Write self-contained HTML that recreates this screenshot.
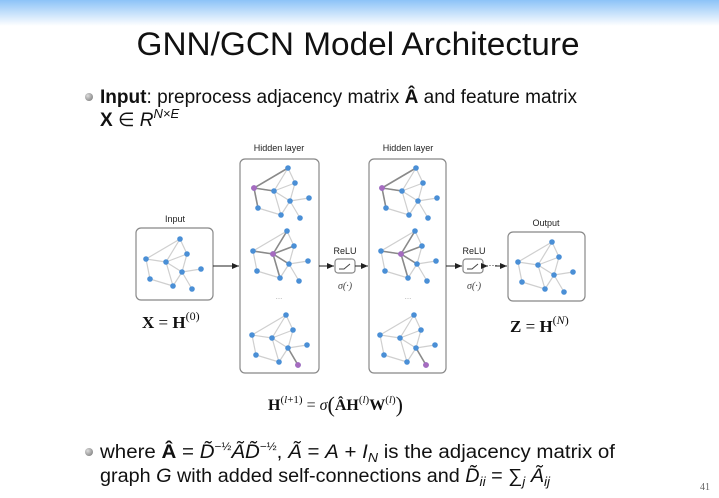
<!DOCTYPE html>
<html><head><meta charset="utf-8"><style>
html,body{margin:0;padding:0;background:#fff;}
svg{display:block;}
</style></head><body>
<svg width="719" height="498" viewBox="0 0 719 498" xmlns="http://www.w3.org/2000/svg" font-family="Liberation Sans, sans-serif">
<defs>
<linearGradient id="hd" x1="0" y1="0" x2="0" y2="1">
<stop offset="0" stop-color="#8cc3f7"/><stop offset="1" stop-color="#ffffff"/>
</linearGradient>
<radialGradient id="bl" cx="0.35" cy="0.35" r="0.7"><stop offset="0" stop-color="#ddd"/><stop offset="1" stop-color="#888"/></radialGradient>
<marker id="ar" markerWidth="8" markerHeight="8" refX="7" refY="4" orient="auto" markerUnits="userSpaceOnUse"><path d="M0,1 L7,4 L0,7 z" fill="#222"/></marker>
<g id="edges">
<g stroke="#cfcfcf" stroke-width="1.2">
<line x1="44" y1="11" x2="10" y2="31"/><line x1="44" y1="11" x2="51" y2="26"/><line x1="44" y1="11" x2="30" y2="34"/>
<line x1="30" y1="34" x2="10" y2="31"/><line x1="30" y1="34" x2="51" y2="26"/><line x1="30" y1="34" x2="46" y2="44"/><line x1="30" y1="34" x2="37" y2="58"/>
<line x1="51" y1="26" x2="46" y2="44"/><line x1="46" y1="44" x2="65" y2="41"/><line x1="46" y1="44" x2="56" y2="61"/>
<line x1="10" y1="31" x2="14" y2="51"/><line x1="14" y1="51" x2="37" y2="58"/><line x1="37" y1="58" x2="46" y2="44"/>
</g></g>
<g id="nodes" fill="#4a8fd6">
<circle cx="44" cy="11" r="2.8"/><circle cx="10" cy="31" r="2.8"/><circle cx="30" cy="34" r="2.8"/><circle cx="51" cy="26" r="2.8"/><circle cx="46" cy="44" r="2.8"/><circle cx="14" cy="51" r="2.8"/><circle cx="37" cy="58" r="2.8"/><circle cx="65" cy="41" r="2.8"/><circle cx="56" cy="61" r="2.8"/>
</g>
<g id="g1"><use href="#edges"/>
<g stroke="#8a8a8a" stroke-width="1.6"><line x1="10" y1="31" x2="44" y2="11"/><line x1="10" y1="31" x2="30" y2="34"/><line x1="10" y1="31" x2="14" y2="51"/></g>
<use href="#nodes"/><circle cx="10" cy="31" r="2.9" fill="#a66bbf"/></g>
<g id="g2"><use href="#edges"/>
<g stroke="#8a8a8a" stroke-width="1.6"><line x1="30" y1="34" x2="10" y2="31"/><line x1="30" y1="34" x2="44" y2="11"/><line x1="30" y1="34" x2="51" y2="26"/><line x1="30" y1="34" x2="46" y2="44"/><line x1="30" y1="34" x2="37" y2="58"/></g>
<use href="#nodes"/><circle cx="30" cy="34" r="2.9" fill="#a66bbf"/></g>
<g id="g3"><use href="#edges"/>
<g stroke="#8a8a8a" stroke-width="1.6"><line x1="56" y1="61" x2="46" y2="44"/></g>
<use href="#nodes"/><circle cx="56" cy="61" r="2.9" fill="#a66bbf"/></g>
</defs>
<rect x="0" y="0" width="719" height="26" fill="url(#hd)"/>
<text x="358" y="55" font-size="32" text-anchor="middle" textLength="443" lengthAdjust="spacingAndGlyphs" fill="#111">GNN/GCN Model Architecture</text>
<circle cx="89" cy="97" r="4" fill="url(#bl)"/>
<text x="100" y="103" font-size="19" fill="#111" textLength="477" lengthAdjust="spacingAndGlyphs"><tspan font-weight="bold">Input</tspan>: preprocess adjacency matrix <tspan font-weight="bold">Â</tspan> and feature matrix</text>
<text x="100" y="126" font-size="19" fill="#111"><tspan font-weight="bold">X</tspan> ∈ <tspan font-style="italic">R</tspan><tspan font-size="13" dy="-8" font-style="italic">N×E</tspan></text>

<g fill="#222" font-size="9" text-anchor="middle">
<text x="175" y="222">Input</text>
<text x="279" y="151">Hidden layer</text>
<text x="408" y="151">Hidden layer</text>
<text x="546" y="226">Output</text>
<text x="345" y="254">ReLU</text>
<text x="474" y="254">ReLU</text>
</g>
<g fill="#444" font-size="10" text-anchor="middle" font-family="Liberation Serif, serif" font-style="italic">
<text x="345" y="289">σ(·)</text><text x="474" y="289">σ(·)</text>
</g>
<g fill="none" stroke="#888" stroke-width="1.2">
<rect x="136" y="228" width="77" height="72" rx="5"/>
<rect x="240" y="159" width="79" height="214" rx="5"/>
<rect x="369" y="159" width="77" height="214" rx="5"/>
<rect x="508" y="232" width="77" height="69" rx="5"/>
<rect x="335" y="259" width="20" height="14" rx="3"/>
<rect x="463" y="259" width="20" height="14" rx="3"/>
</g>
<g stroke="#444" fill="none" stroke-width="1"><path d="M339,269 h5 l6,-5"/><path d="M467,269 h5 l6,-5"/></g>
<g stroke="#222" stroke-width="1" marker-end="url(#ar)">
<line x1="213" y1="266" x2="239" y2="266"/>
<line x1="319" y1="266" x2="334" y2="266"/>
<line x1="355" y1="266" x2="368" y2="266"/>
<line x1="446" y1="266" x2="462" y2="266"/>
<line x1="495" y1="266" x2="507" y2="266"/>
</g>
<line x1="483" y1="266" x2="488" y2="266" stroke="#222" marker-end="url(#ar)"/>
<text x="493" y="268" font-size="9" fill="#222" text-anchor="middle">···</text>
<g fill="#aaa" font-size="8" text-anchor="middle"><text x="279" y="299">...</text><text x="408" y="299">...</text></g>

<use href="#edges" x="136" y="228"/><use href="#nodes" x="136" y="228"/>
<use href="#g1" x="244" y="157"/><use href="#g2" x="243" y="220"/><use href="#g3" x="242" y="304"/>
<use href="#g1" x="372" y="157"/><use href="#g2" x="371" y="220"/><use href="#g3" x="370" y="304"/>
<use href="#edges" x="508" y="231"/><use href="#nodes" x="508" y="231"/>

<g font-family="Liberation Serif, serif" fill="#111">
<text x="142" y="328" font-size="17"><tspan font-weight="bold">X</tspan> = <tspan font-weight="bold">H</tspan><tspan font-size="12" dy="-8">(0)</tspan></text>
<text x="510" y="332" font-size="17"><tspan font-weight="bold">Z</tspan> = <tspan font-weight="bold">H</tspan><tspan font-size="12" dy="-8">(<tspan font-style="italic">N</tspan>)</tspan></text>
<text x="268" y="410" font-size="16"><tspan font-weight="bold">H</tspan><tspan font-size="11" dy="-7">(<tspan font-style="italic">l</tspan>+1)</tspan><tspan dy="7"> = </tspan><tspan font-style="italic">σ</tspan><tspan font-size="22" dy="2">(</tspan><tspan dy="-2" font-weight="bold">ÂH</tspan><tspan font-size="11" dy="-7">(<tspan font-style="italic">l</tspan>)</tspan><tspan dy="7" font-weight="bold">W</tspan><tspan font-size="11" dy="-7">(<tspan font-style="italic">l</tspan>)</tspan><tspan font-size="22" dy="9">)</tspan></text>
</g>

<circle cx="89" cy="452" r="4" fill="url(#bl)"/>
<text x="100" y="458" font-size="19" fill="#111" textLength="515" lengthAdjust="spacingAndGlyphs">where <tspan font-weight="bold">Â</tspan> = <tspan font-style="italic">D̃</tspan><tspan font-size="11" dy="-8">−½</tspan><tspan dy="8" font-style="italic">ÃD̃</tspan><tspan font-size="11" dy="-8">−½</tspan><tspan dy="8">, </tspan><tspan font-style="italic">Ã</tspan> = <tspan font-style="italic">A</tspan> + <tspan font-style="italic">I</tspan><tspan font-size="13" dy="4" font-style="italic">N</tspan><tspan dy="-4"> is the adjacency matrix of</tspan></text>
<text x="100" y="482" font-size="19" fill="#111" textLength="450" lengthAdjust="spacingAndGlyphs">graph <tspan font-style="italic">G</tspan> with added self-connections and <tspan font-style="italic">D̃</tspan><tspan font-size="13" dy="4" font-style="italic">ii</tspan><tspan dy="-4"> = ∑</tspan><tspan font-size="13" dy="4" font-style="italic">j</tspan><tspan dy="-4" font-style="italic"> Ã</tspan><tspan font-size="13" dy="4" font-style="italic">ij</tspan></text>
<text x="700" y="490" font-size="10" fill="#666" font-family="Liberation Serif, serif">41</text>
</svg>
</body></html>
